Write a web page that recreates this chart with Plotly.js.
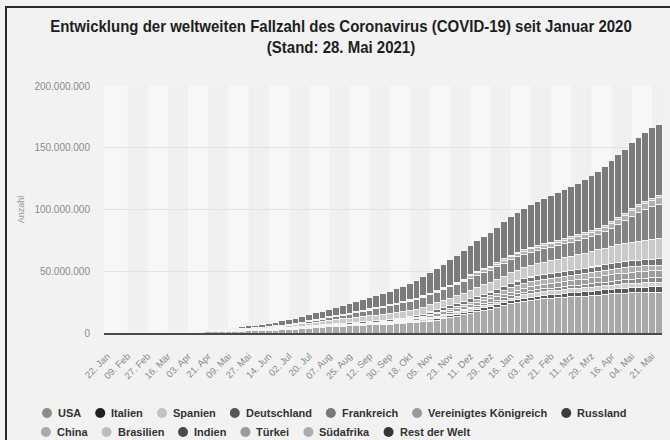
<!DOCTYPE html>
<html><head><meta charset="utf-8">
<script src="https://cdn.plot.ly/plotly-3.0.1.min.js"></script>
<style>
html,body{margin:0;padding:0;background:#f2f2f2;overflow:hidden}
#chart{width:670px;height:440px;position:absolute;left:0;top:0}
#frame{position:absolute;left:5px;top:6px;width:700px;height:500px;border-left:2px solid #2b2b2b;border-top:2px solid #2b2b2b;pointer-events:none}
</style></head>
<body><div id="chart"></div><div id="frame"></div>
<script>
// day index since 22 Jan 2020 (sampled every 6 days up to 28 Mai 2021)
const days = [0,6,12,18,24,30,36,42,48,54,60,66,72,78,84,90,96,102,108,114,120,126,132,138,144,150,156,162,168,174,180,186,192,198,204,210,216,222,228,234,240,246,252,258,264,270,276,282,288,294,300,306,312,318,324,330,336,342,348,354,360,366,372,378,384,390,396,402,408,414,420,426,432,438,444,450,456,462,468,474,480,486,492];
const tickDays = [0,18,36,54,72,90,108,126,144,162,180,198,216,234,252,270,288,306,324,342,360,378,396,414,432,450,468,486];
const tickLabels = ["22. Jan","09. Feb","27. Feb","16. Mär","03. Apr","21. Apr","09. Mai","27. Mai","14. Jun","02. Jul","20. Jul","07. Aug","25. Aug","12. Sep","30. Sep","18. Okt","05. Nov","23. Nov","11. Dez","29. Dez","16. Jan","03. Feb","21. Feb","11. Mrz","29. Mrz","16. Apr","04. Mai","21. Mai"];
// values in millions of cases
const yTickVals = [0,50,100,150,200];
const yTickLabels = ["0","50.000.000","100.000.000","150.000.000","200.000.000"];

const seriesNames = ["USA","Italien","Spanien","Deutschland","Frankreich","Vereinigtes Königreich","Russland","China","Brasilien","Indien","Türkei","Südafrika","Rest der Welt"];
const seriesColors = ["#8c8c8c","#1f1f1f","#c2c2c2","#555555","#7a7a7a","#9a9a9a","#3d3d3d","#a9a9a9","#bcbcbc","#4b4b4b","#9a9a9a","#adadad","#353535"];
const barColors = ["#a9a9a9","#5a5a5a","#cfcfcf","#8a8a8a","#9c9c9c","#b0b0b0","#747474","#bbbbbb","#cacaca","#858585","#b0b0b0","#bdbdbd","#7b7b7b"];

const usa = [0.000001,0.000005,0.000011,0.000011,0.000013,0.000015,0.00006,0.00015,0.001,0.0045,
0.034,0.122,0.276,0.46,0.64,0.82,0.99,1.16,1.31,1.45,
1.58,1.70,1.83,1.96,2.09,2.26,2.47,2.74,3.05,3.43,
3.83,4.25,4.62,4.97,5.28,5.57,5.80,6.04,6.28,6.50,
6.73,6.98,7.23,7.48,7.78,8.15,8.55,9.05,9.68,10.45,
11.4,12.4,13.4,14.6,15.9,17.2,18.4,19.4,20.7,22.3,
23.6,24.7,25.6,26.5,27.2,27.7,28.1,28.5,28.9,29.25,
29.6,29.95,30.35,30.7,31.15,31.6,31.98,32.3,32.55,32.75,
32.95,33.08,33.2];
const italien = [0,0,0.000002,0.000003,0.000003,0.00002,0.00065,0.0031,0.0101,0.0278,
0.0596,0.0925,0.1196,0.1436,0.1653,0.1835,0.1991,0.2103,0.2182,0.2237,
0.2280,0.2311,0.2334,0.2352,0.2367,0.2382,0.2395,0.2408,0.2422,0.2431,
0.2446,0.2461,0.2478,0.2500,0.2527,0.2562,0.2620,0.2689,0.2772,0.2866,
0.2959,0.3043,0.3142,0.3276,0.3544,0.4025,0.4843,0.6167,0.8246,1.0286,
1.2381,1.4316,1.5854,1.7284,1.8435,1.9213,1.9775,2.0389,2.1558,2.2769,
2.3683,2.4416,2.5120,2.5842,2.6449,2.7122,2.7957,2.9075,3.0465,3.1756,
3.3065,3.4402,3.5613,3.6664,3.7692,3.8579,3.9250,3.9943,4.0592,4.1164,
4.1593,4.1946,4.2130];
const spanien = [0,0,0.000001,0.000002,0.000002,0.000002,0.000015,0.00022,0.00168,0.0113,
0.0289,0.0727,0.1194,0.1530,0.1802,0.2046,0.2099,0.2172,0.2234,0.2306,
0.2329,0.2371,0.2397,0.2415,0.2440,0.2461,0.2478,0.2500,0.2528,0.2565,
0.2645,0.2728,0.2880,0.3095,0.3372,0.3646,0.4056,0.4629,0.5253,0.5664,
0.6404,0.7048,0.7694,0.8136,0.8884,0.9366,1.0465,1.1852,1.3288,1.4173,
1.4962,1.5565,1.6291,1.6848,1.7308,1.7804,1.8423,1.8843,1.9828,2.0505,
2.2529,2.4999,2.7053,2.8516,2.9416,3.0572,3.1330,3.1804,3.1988,3.2126,
3.2456,3.2554,3.2843,3.3117,3.3367,3.3841,3.4178,3.4688,3.5247,3.5672,
3.6056,3.6436,3.6687];
const deutschland = [0,0.000004,0.000012,0.000014,0.000016,0.000016,0.000046,0.00026,0.00158,0.0073,
0.0248,0.0580,0.0912,0.1183,0.1340,0.1481,0.1582,0.1651,0.1709,0.1745,
0.1786,0.1813,0.1833,0.1856,0.1873,0.1900,0.1938,0.1962,0.1984,0.2002,
0.2025,0.2060,0.2103,0.2152,0.2223,0.2300,0.2376,0.2443,0.2517,0.2598,
0.2698,0.2795,0.2924,0.3043,0.3315,0.3661,0.4282,0.5020,0.6313,0.7278,
0.8372,0.9262,1.0372,1.1534,1.2727,1.4240,1.5878,1.6985,1.8142,1.9293,
2.0435,2.1235,2.1932,2.2473,2.2917,2.3388,2.3862,2.4381,2.4962,2.5544,
2.6286,2.7053,2.8047,2.8825,2.9734,3.1234,3.2564,3.3896,3.4999,3.5802,
3.6213,3.6560,3.6750];
const frankreich = [0,0.000004,0.000006,0.000011,0.000012,0.000012,0.000038,0.00029,0.00178,0.0066,
0.0160,0.0380,0.0649,0.0862,0.1061,0.1188,0.1243,0.1309,0.1386,0.1411,
0.1438,0.1459,0.1515,0.1542,0.1574,0.1603,0.1623,0.1661,0.1700,0.1730,
0.1775,0.1825,0.1878,0.1966,0.2083,0.2216,0.2460,0.2813,0.3252,0.3738,
0.4285,0.4818,0.5634,0.6245,0.7571,0.8973,1.0882,1.3285,1.6616,1.8987,
2.0657,2.1446,2.2221,2.2984,2.3689,2.4394,2.5255,2.5748,2.6613,2.8003,
2.9171,3.0337,3.1640,3.2819,3.3813,3.4911,3.6093,3.7329,3.8561,4.0023,
4.1662,4.3538,4.5538,4.7545,4.9565,5.1279,5.2681,5.3930,5.4907,5.5697,
5.6313,5.6738,5.6978];
const vereinigtesKoenigreich = [0,0,0.000002,0.000004,0.000009,0.000009,0.000015,0.000087,0.00038,0.00154,
0.0057,0.0175,0.0387,0.0654,0.0987,0.1298,0.1579,0.1839,0.2156,0.2368,
0.2520,0.2677,0.2780,0.2877,0.2960,0.3032,0.3094,0.2836,0.2868,0.2915,
0.2953,0.2996,0.3052,0.3106,0.3167,0.3227,0.3281,0.3375,0.3484,0.3652,
0.3846,0.4094,0.4533,0.5225,0.6176,0.7226,0.8301,0.9891,1.1373,1.2597,
1.4106,1.5423,1.6287,1.7145,1.8292,1.9613,2.1757,2.4112,2.7882,3.1429,
3.4065,3.6286,3.8193,3.9504,4.0474,4.1183,4.1649,4.2002,4.2289,4.2575,
4.2906,4.3137,4.3414,4.3659,4.3869,4.4118,4.4287,4.4459,4.4611,4.4766,
4.4918,4.5093,4.5284];
const russland = [0,0,0.000002,0.000002,0.000002,0.000002,0.000002,0.000003,0.00002,0.000093,
0.00037,0.00126,0.00455,0.0108,0.0248,0.0525,0.0873,0.1349,0.1984,0.2626,
0.3173,0.3706,0.4235,0.4768,0.5289,0.5763,0.6210,0.6617,0.7007,0.7371,
0.7707,0.8041,0.8389,0.8702,0.9008,0.9331,0.9631,0.9925,1.0245,1.0577,
1.0914,1.1303,1.1766,1.2316,1.3053,1.3998,1.5135,1.6194,1.7416,1.8720,
2.0156,2.1622,2.3213,2.4875,2.6524,2.8160,2.9774,3.1322,3.2690,3.4051,
3.5324,3.6532,3.7586,3.8559,3.9443,4.0260,4.1001,4.1663,4.2342,4.2950,
4.3553,4.4127,4.4706,4.5269,4.5813,4.6390,4.6901,4.7422,4.7917,4.8442,
4.8991,4.9569,5.0161];
const china = [0.000548,0.00554,0.0173,0.0403,0.0678,0.0760,0.0785,0.0802,0.0808,0.0810,
0.0814,0.0819,0.0826,0.0829,0.0834,0.0839,0.0839,0.0840,0.0840,0.0841,
0.0841,0.0841,0.0842,0.0842,0.0844,0.0845,0.0846,0.0848,0.0850,0.0852,
0.0857,0.0867,0.0875,0.0883,0.0890,0.0894,0.0898,0.0900,0.0902,0.0904,
0.0905,0.0906,0.0908,0.0910,0.0912,0.0914,0.0916,0.0918,0.0920,0.0922,
0.0924,0.0928,0.0932,0.0937,0.0942,0.0946,0.0950,0.0954,0.0959,0.0966,
0.0978,0.0992,0.1003,0.1009,0.1012,0.1014,0.1015,0.1016,0.1018,0.1020,
0.1022,0.1024,0.1026,0.1028,0.1030,0.1032,0.1034,0.1036,0.1038,0.1039,
0.1041,0.1043,0.1045];
const brasilien = [0,0,0,0,0,0,0.000001,0.000004,0.000034,0.00023,
0.00155,0.00391,0.00931,0.0180,0.0281,0.0433,0.0667,0.1011,0.1458,0.2189,
0.3108,0.4116,0.5557,0.7072,0.8674,1.0700,1.2745,1.4966,1.7137,1.9265,
2.1186,2.4199,2.6621,2.9621,3.2245,3.4561,3.6695,3.9106,4.1231,4.3305,
4.4958,4.6577,4.8109,4.9279,5.0942,5.2248,5.3536,5.4688,5.6320,5.7489,
5.9111,6.0878,6.3143,6.5771,6.8809,7.1101,7.3183,7.5047,7.7333,8.1055,
8.4557,8.7538,9.0581,9.3397,9.5244,9.8348,10.1399,10.4552,10.8692,11.2775,
11.7800,12.1303,12.5734,12.9841,13.3737,13.8324,14.2377,14.5218,14.8562,15.2093,
15.5864,16.0472,16.4713];
const indien = [0,0,0.000003,0.000003,0.000003,0.000003,0.000003,0.000028,0.000056,0.000114,
0.0004,0.00099,0.00256,0.00673,0.0124,0.0200,0.0291,0.0424,0.0627,0.0854,
0.1181,0.1583,0.2077,0.2660,0.3330,0.4107,0.5090,0.6258,0.7678,0.9369,
1.1554,1.4357,1.7504,2.0882,2.4610,2.8365,3.2347,3.6919,4.2044,4.7544,
5.3085,5.8186,6.3125,6.7572,7.1201,7.4947,7.8158,8.0882,8.3645,8.6365,
8.8748,9.1395,9.4319,9.6443,9.8154,9.9567,10.0767,10.2078,10.3406,10.4507,
10.5422,10.6258,10.7204,10.7893,10.8588,10.9165,10.9912,11.0966,11.1736,11.2856,
11.4741,11.7348,12.0950,12.5852,13.3586,14.5268,16.2634,18.3768,20.6659,22.9925,
24.9652,26.2897,27.5556];
const tuerkei = [0,0,0,0,0,0,0,0,0,0.000047,
0.00123,0.0071,0.0208,0.0428,0.0692,0.0950,0.1123,0.1268,0.1371,0.1462,
0.1543,0.1601,0.1658,0.1728,0.1791,0.1872,0.1953,0.2020,0.2080,0.2146,
0.2205,0.2271,0.2340,0.2405,0.2476,0.2556,0.2628,0.2718,0.2800,0.2897,
0.2997,0.3109,0.3184,0.3225,0.3334,0.3469,0.3643,0.3869,0.4133,0.4371,
0.4654,0.4936,0.60,0.90,1.78,1.93,2.06,2.17,2.28,2.35,
2.40,2.44,2.48,2.52,2.56,2.60,2.65,2.70,2.79,2.87,
2.97,3.09,3.25,3.45,3.75,4.08,4.40,4.67,4.88,5.02,
5.10,5.16,5.22];
const suedafrika = [0,0,0,0,0,0,0,0,0.000007,0.000062,
0.00027,0.00128,0.00158,0.00193,0.0025,0.00342,0.00479,0.00676,0.0100,0.0138,
0.0198,0.0275,0.0356,0.0508,0.0700,0.0929,0.1249,0.1681,0.2245,0.2874,
0.3641,0.4345,0.4931,0.5451,0.5686,0.5967,0.6137,0.6284,0.6398,0.6493,
0.6578,0.6686,0.6749,0.6835,0.6928,0.7038,0.7159,0.7260,0.7355,0.7466,
0.7570,0.7679,0.7878,0.8100,0.8405,0.8920,0.9569,1.0412,1.1317,1.2362,
1.3169,1.3808,1.4306,1.4600,1.4795,1.4920,1.5026,1.5133,1.5220,1.5275,
1.5357,1.5428,1.5485,1.5531,1.5591,1.5649,1.5719,1.5798,1.5897,1.6039,
1.6149,1.6317,1.6523];
const restDerWelt = [0.000007,0.00005,0.00015,0.0003,0.0006,0.0012,0.0032,0.0108,0.022,0.041,
0.083,0.165,0.266,0.41,0.515,0.637,0.82,0.94,1.105,1.322,
1.56,1.815,2.062,2.328,2.656,2.98,3.368,3.734,4.10,4.518,
4.97,5.335,5.775,6.254,6.79,7.268,7.787,8.28,8.73,9.376,
9.907,10.463,10.993,11.614,12.234,13.263,14.318,15.547,16.557,17.984,
19.136,20.455,21.649,22.808,23.49,24.974,26.407,27.541,28.547,29.856,
31.167,32.22,33.458,34.519,35.525,36.312,37.326,38.508,39.483,40.69,
41.845,43.169,44.564,46.117,47.902,49.3,50.6,52.0,53.4,54.77,
55.87,57.35,58.2];

const seriesValues = [usa,italien,spanien,deutschland,frankreich,vereinigtesKoenigreich,russland,china,brasilien,indien,tuerkei,suedafrika,restDerWelt];

const W = 670, H = 440;
const M = {l:104, r:8, t:86, b:107};
const PW = W - M.l - M.r, PH = H - M.t - M.b;
const toPX = px => (px - M.l) / PW;
const toPY = py => (M.t + PH - py) / PH;

const traces = seriesNames.map((name, i) => ({
  type: 'bar',
  name: name,
  x: days,
  y: seriesValues[i],
  marker: {color: barColors[i], line: {color: '#f4f4f4', width: 1}},
  showlegend: false,
  hoverinfo: 'skip'
}));

const shapes = [];
const xEnd = 495;
for (let k = 1; k < tickDays.length; k += 2) {
  shapes.push({type:'rect', xref:'x', yref:'paper', x0: tickDays[k], x1: (k+1 < tickDays.length ? tickDays[k+1] : xEnd), y0:0, y1:1,
    fillcolor:'#f0f0f0', line:{width:0}, layer:'below'});
}

const annotations = [];
const ctx = document.createElement('canvas').getContext('2d');
ctx.font = 'bold 11px "Liberation Sans"';
const rowY = [413, 432];
let row = 0, cx = 47;
seriesNames.forEach((n, i) => {
  const w = ctx.measureText(n).width;
  if (cx + 11 + w > 652) { row++; cx = 46; }
  shapes.push({type:'circle', xref:'paper', yref:'paper', xsizemode:'pixel', ysizemode:'pixel',
    xanchor: toPX(cx), yanchor: toPY(rowY[row]), x0:-5, x1:5, y0:-5, y1:5,
    fillcolor: seriesColors[i], line:{width:0}, layer:'above'});
  annotations.push({xref:'paper', yref:'paper', x: toPX(cx + 9), y: toPY(rowY[row]), xanchor:'left', yanchor:'middle',
    text: n, showarrow:false, font:{family:'"Liberation Sans", Arial, sans-serif', size:11, color:'#333333', weight:'bold'}});
  cx += 11 + w + 19;
});

const layout = {
  width: W, height: H,
  margin: M,
  paper_bgcolor: '#f2f2f2',
  plot_bgcolor: '#f7f7f7',
  barmode: 'stack',
  bargap: 0,
  hovermode: false,
  showlegend: false,
  title: {
    text: '<b>Entwicklung der weltweiten Fallzahl des Coronavirus (COVID-19) seit Januar 2020</b><br><b>(Stand: 28. Mai 2021)</b>',
    font: {family: '"Liberation Sans", Arial, sans-serif', size: 16, color: '#1e1e1e'},
    x: 341/670, xanchor: 'center', xref: 'container',
    y: 1 - 32/440, yanchor: 'top', yref: 'container'
  },
  xaxis: {
    range: [-3, xEnd],
    tickmode: 'array', tickvals: tickDays, ticktext: tickLabels,
    tickangle: -45,
    tickfont: {family: '"Liberation Sans", Arial, sans-serif', size: 9.5, color: '#8a8a8a'},
    ticks: 'outside', ticklen: 12, tickcolor: 'rgba(0,0,0,0)',
    showgrid: false, zeroline: false,
    showline: true, linecolor: '#4a4a4a', linewidth: 2,
    fixedrange: true
  },
  yaxis: {
    range: [0, 200],
    tickmode: 'array', tickvals: yTickVals, ticktext: yTickLabels,
    tickfont: {family: '"Liberation Sans", Arial, sans-serif', size: 10, color: '#8a8a8a'},
    ticks: 'outside', ticklen: 11, tickcolor: 'rgba(0,0,0,0)',
    gridcolor: '#e2e2e2', gridwidth: 1,
    zeroline: false, showline: false,
    title: {text: 'Anzahl', font: {family: '"Liberation Sans", Arial, sans-serif', size: 9, color: '#9a9a9a'}, standoff: 8},
    fixedrange: true
  },
  shapes: shapes,
  annotations: annotations
};

Plotly.newPlot('chart', traces, layout, {displayModeBar: false, staticPlot: true}).then(gd => {
  // condense the title horizontally to mimic the narrow typeface of the original
  const g = gd.querySelector('.g-gtitle');
  const t = g && g.querySelector('text');
  if (t) {
    const bb = t.getBBox();
    const s = Math.min(1, 582 / bb.width);
    const c = bb.x + bb.width / 2;
    g.setAttribute('transform', `translate(${c},0) scale(${s},1) translate(${-c},0)`);
  }
});
</script>
</body></html>
